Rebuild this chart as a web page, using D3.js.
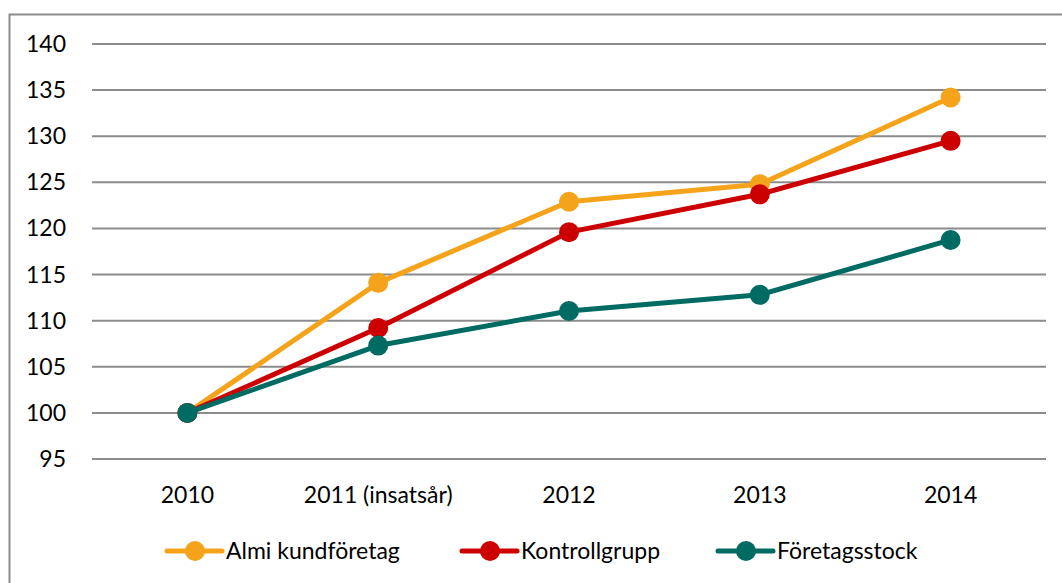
<!DOCTYPE html>
<html lang="sv">
<head>
    <meta charset="utf8">
    <title>Almi kundföretag</title>
    <script src="https://d3js.org/d3.v7.min.js"></script>
    <style>
        body { margin: 0; background: #fff; }
        svg { display: block; font-family: Lato, "Open Sans", sans-serif; }
    </style>
</head>
<body>
    <svg id="chart" width="1062" height="583"></svg>
    <script>
        const categories = ["2010", "2011 (insatsår)", "2012", "2013", "2014"];
        const seriesNames = ["Almi kundföretag", "Kontrollgrupp", "Företagsstock"];
        const almi = [100, 114.1, 122.9, 124.8, 134.2];
        const kontroll = [100, 109.2, 119.6, 123.7, 129.5];
        const stock = [100, 107.3, 111.05, 112.8, 118.75];
        const yTicks = [95, 100, 105, 110, 115, 120, 125, 130, 135, 140];
        const colors = ["#F5A31A", "#CC0000", "#006B63"];

        const series = [almi, kontroll, stock];

        const svg = d3.select("#chart");

        // chart border (open to the right/bottom like the source crop)
        svg.append("path")
           .attr("d", "M9.5,583 V14.5 H1062")
           .attr("fill", "none")
           .attr("stroke", "#8c8c8c")
           .attr("stroke-width", 2);

        const x = d3.scaleBand().domain(categories).range([92, 1046]);
        const y = d3.scaleLinear().domain([95, 140]).range([459, 44]);

        // gridlines
        svg.append("g")
           .selectAll("line")
           .data(yTicks)
           .join("line")
           .attr("x1", 92).attr("x2", 1046)
           .attr("y1", d => y(d)).attr("y2", d => y(d))
           .attr("stroke", "#8c8c8c")
           .attr("stroke-width", 2);

        // y labels
        svg.append("g")
           .selectAll("text")
           .data(yTicks)
           .join("text")
           .attr("x", 66)
           .attr("y", d => y(d) + 8)
           .attr("text-anchor", "end")
           .attr("font-size", 23)
           .attr("fill", "#000")
           .text(d => d);

        // x labels
        svg.append("g")
           .selectAll("text")
           .data(categories)
           .join("text")
           .attr("x", d => x(d) + x.bandwidth() / 2)
           .attr("y", 503)
           .attr("text-anchor", "middle")
           .attr("font-size", 23)
           .attr("fill", "#000")
           .text(d => d);

        const line = d3.line()
                       .x((d, i) => x(categories[i]) + x.bandwidth() / 2)
                       .y(d => y(d));

        series.forEach((vals, s) => {
            const g = svg.append("g");
            g.append("path")
             .attr("d", line(vals))
             .attr("fill", "none")
             .attr("stroke", colors[s])
             .attr("stroke-width", 5)
             .attr("stroke-linejoin", "round");
            g.selectAll("circle")
             .data(vals)
             .join("circle")
             .attr("cx", (d, i) => x(categories[i]) + x.bandwidth() / 2)
             .attr("cy", d => y(d))
             .attr("r", 10)
             .attr("fill", colors[s]);
        });

        // legend
        const legendX = [167, 462, 718];
        const legend = svg.append("g");
        seriesNames.forEach((name, s) => {
            const lx = legendX[s];
            legend.append("line")
                  .attr("x1", lx).attr("x2", lx + 55)
                  .attr("y1", 551).attr("y2", 551)
                  .attr("stroke", colors[s])
                  .attr("stroke-width", 5)
                  .attr("stroke-linecap", "round");
            legend.append("circle")
                  .attr("cx", lx + 28).attr("cy", 551)
                  .attr("r", 10)
                  .attr("fill", colors[s]);
            legend.append("text")
                  .attr("x", lx + 59)
                  .attr("y", 559)
                  .attr("font-size", 23)
                  .attr("fill", "#000")
                  .text(name);
        });
    </script>
</body>
</html>
